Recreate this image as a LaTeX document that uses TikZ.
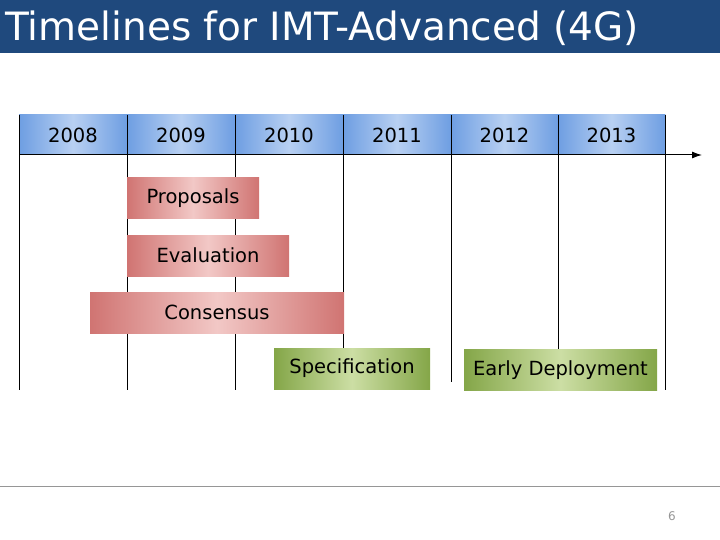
\documentclass[tikz,border=0pt]{standalone}
\usepackage{fontspec}
\setmainfont{DejaVu Sans}
\usetikzlibrary{arrows.meta}
\definecolor{titlebg}{RGB}{31,73,125}
\definecolor{hdredge}{RGB}{110,158,226}
\definecolor{hdrmid}{RGB}{184,208,242}
\definecolor{rededge}{RGB}{208,116,114}
\definecolor{redmid}{RGB}{242,200,198}
\definecolor{grnedge}{RGB}{132,166,72}
\definecolor{grnmid}{RGB}{204,222,164}
\definecolor{footgray}{RGB}{150,150,150}
\tikzset{
  hdr/.style={rectangle, inner sep=0pt, minimum width=107.7pt, minimum height=40pt,
    left color=hdredge, right color=hdredge, middle color=hdrmid,
    font=\fontsize{19.5}{23}\selectfont},
  redbar/.style={rectangle, inner sep=0pt, minimum height=41pt,
    left color=rededge, right color=rededge, middle color=redmid,
    font=\fontsize{19.5}{23}\selectfont},
  grnbar/.style={rectangle, inner sep=0pt, minimum height=41pt,
    left color=grnedge, right color=grnedge, middle color=grnmid,
    font=\fontsize{19.5}{23}\selectfont},
  vline/.style={draw=black, line width=1pt},
}
\begin{document}
\begin{tikzpicture}[x=1pt,y=-1pt]
\useasboundingbox (0,0) rectangle (720,540);
% title bar
\fill[titlebg] (0,0) rectangle (720,53);
\node[anchor=base west, inner sep=0pt, text=white, font=\fontsize{39}{42}\selectfont] (title) at (5,41) {Timelines for IMT-Advanced (4G)};
% vertical grid lines
\foreach \n/\x/\yb in {a/19/390, b/127/390, c/235/390, d/343/390, e/451/382, f/558/352, g/665/390}{
  \coordinate (\n top) at (\x,115);
  \coordinate (\n bot) at (\x,\yb);
  \draw[vline] (\n top) -- (\n bot);
}
% header cells
\node[hdr] (y2008) at (73,135) {2008};
\node[hdr] (y2009) at (181,135) {2009};
\node[hdr] (y2010) at (289,135) {2010};
\node[hdr] (y2011) at (397,135) {2011};
\node[hdr] (y2012) at (504.5,135) {2012};
\node[hdr] (y2013) at (611.5,135) {2013};
\foreach \n/\x in {a/19,b/127,c/235,d/343,e/451,f/558,g/665}{
  \draw[vline] (\n top) -- ++(0,40);
}
% axis
\coordinate (axstart) at (19,155);
\coordinate (axend) at (702,155);
\draw[line width=1pt, -{Latex[length=10pt,width=7pt]}] (axstart) -- (axend);
% bars
\node[redbar, minimum width=132pt] (prop) at (193,198.5) {Proposals};
\node[redbar, minimum width=162pt] (eval) at (208,255.5) {Evaluation};
\node[redbar, minimum width=254pt] (cons) at (217,312.5) {Consensus};
\node[grnbar, minimum width=156pt] (spec) at (352,368.5) {Specification};
\node[grnbar, minimum width=193pt] (early) at (560.5,370) {Early Deployment};
% footer
\draw[footgray, line width=1pt] (0,486) -- (720,486);
\node[text=footgray, font=\fontsize{12}{14}\selectfont] (page) at (672,516) {6};
\end{tikzpicture}
\end{document}
